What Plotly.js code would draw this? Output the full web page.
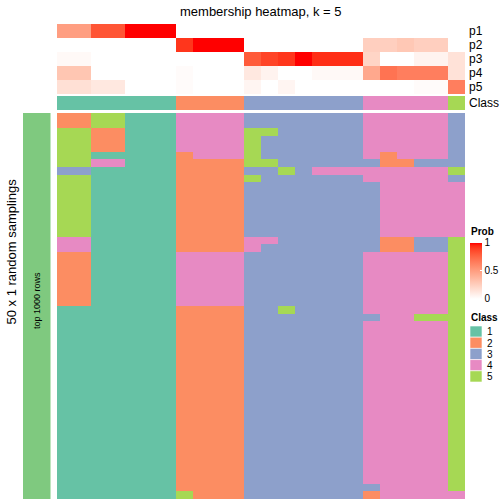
<!DOCTYPE html>
<html><head><meta charset="utf-8">
<script src="https://cdn.plot.ly/plotly-3.0.1.min.js"></script>
<style>html,body{margin:0;padding:0;background:#fff}#plot{width:504px;height:504px}</style>
</head><body><div id="plot"></div>
<script>
// ---- data ----
var classLabels = ['1','2','3','4','5'];
var classColors = ['#66C2A5','#FC8D62','#8DA0CB','#E78AC3','#A6D854'];
var probNames = ['p1','p2','p3','p4','p5'];
var p1 = [0.5,0.5,0.82,0.82,1,1,1,0,0,0,0,0,0,0,0,0,0,0,0,0,0,0,0,0];
var p2 = [0,0,0,0,0,0,0,0.92,1,1,1,0,0,0,0,0,0,0,0.25,0.25,0.29,0.25,0.25,0];
var p3 = [0.03,0.03,0,0,0,0,0,0,0,0,0,0.8,0.88,0.92,1,0.94,0.94,0.94,0.22,0,0,0.06,0.06,0.15];
var p4 = [0.3,0.3,0,0,0,0,0,0.02,0,0,0,0.12,0.06,0,0,0.03,0.03,0.03,0.45,0.7,0.65,0.65,0.65,0.15];
var p5 = [0.16,0.16,0.12,0.12,0,0,0,0.02,0,0,0,0.05,0,0.05,0,0,0,0,0,0,0,0.02,0.02,0.65];
var sampleClass = [1,1,1,1,1,1,1,2,2,2,2,3,3,3,3,3,3,3,4,4,4,4,4,5];
var samplingRows = [
"225511144443333333444443",
"225511144443333333444443",
"552211144445533333444443",
"552211144445333333444443",
"552211144445333333444443",
"551111124445333333424443",
"554411122225533333322333",
"331111122223353444444445",
"551111122225333333444443",
"551111122223333333344444",
"551111122223333333344444",
"551111122223333333344444",
"551111122223333333344444",
"551111122223333333344444",
"551111122223333333344444",
"551111122223333333344444",
"441111122224433333322335",
"441111122224333333322335",
"221111144443333333444445",
"221111144443333333444445",
"221111144443333333444445",
"221111144443333333444445",
"221111144443333333444445",
"221111144443333333444445",
"221111144443333333444445",
"111111122223353333444445",
"111111122223333333344555",
"111111122223333333444445",
"111111122223333333444445",
"111111122223333333444445",
"111111122223333333444445",
"111111122223333333444445",
"111111122223333333444445",
"111111122223333333444445",
"111111122223333333444445",
"111111122223333333444445",
"111111122223333333444445",
"111111122223333333444445",
"111111122223333333444445",
"111111122223333333444445",
"111111122223333333444445",
"111111122223333333444445",
"111111122223333333444445",
"111111122223333333444445",
"111111122223333333444445",
"111111122223333333444445",
"111111122223333333444445",
"111111122223333333444445",
"111111122223333333344445",
"111111152223333333244444"
];
var probTicks = [0, 0.5, 1];
var probTickText = ['0', '0.5', '1'];
var titleText = 'membership heatmap, k = 5';
var rowTitle = '50 x 1 random samplings';
var bandLabel = 'top 1000 rows';

// ---- helpers ----
var W = 504, H = 504;
function px(x){return x/W;}
function py(y){return (H-y)/H;}
function labToRgb(L,a,b){
  var fy=(L+16)/116, fx=fy+a/500, fz=fy-b/200;
  function f(t){return t*t*t>0.008856?t*t*t:(t-16/116)/7.787;}
  var X=0.95047*f(fx), Y=1.0*f(fy), Z=1.08883*f(fz);
  var r=3.2406*X-1.5372*Y-0.4986*Z, g=-0.9689*X+1.8758*Y+0.0415*Z, bb=0.0557*X-0.2040*Y+1.0572*Z;
  function c(v){v=v<=0.0031308?12.92*v:1.055*Math.pow(v,1/2.4)-0.055;return Math.round(Math.max(0,Math.min(1,v))*255);}
  return 'rgb('+c(r)+','+c(g)+','+c(bb)+')';
}
var probScale=[];
for(var i=0;i<=20;i++){var t=i/20;probScale.push([t,labToRgb(100+(53.24-100)*t,80.09*t,67.20*t)]);}
var classScale=[];
classColors.forEach(function(c,i){classScale.push([i/5,c]);classScale.push([(i+1)/5,c]);});

var nCols = sampleClass.length;
var xs = []; for (var j=0;j<nCols;j++) xs.push(j);
var mainZ = samplingRows.map(function(s){return s.split('').map(Number);});
var mainY = []; for (var r=0;r<mainZ.length;r++) mainY.push(r);
var font = 'Liberation Sans, Arial, sans-serif';

var traces = [
  {type:'heatmap', x:xs, y:probNames, z:[p1,p2,p3,p4,p5], xaxis:'x', yaxis:'y3',
   colorscale:probScale, zmin:0, zmax:1, hoverinfo:'skip',
   colorbar:{x:px(470), xanchor:'left', y:py(270.5), yanchor:'middle', len:56, lenmode:'pixels',
     thickness:12, thicknessmode:'pixels', xpad:0, ypad:0, outlinewidth:0,
     tickvals:probTicks, ticktext:probTickText, ticks:'inside', ticklen:2, tickcolor:'#fff',
     tickfont:{family:font, size:10, color:'#000'}}},
  {type:'heatmap', x:xs, y:['Class'], z:[sampleClass], xaxis:'x', yaxis:'y2',
   colorscale:classScale, zmin:0.5, zmax:5.5, showscale:false, hoverinfo:'skip'},
  {type:'heatmap', x:xs, y:mainY, z:mainZ, xaxis:'x', yaxis:'y',
   colorscale:classScale, zmin:0.5, zmax:5.5, showscale:false, hoverinfo:'skip'}
];

var shapes = [
  {type:'rect', xref:'paper', yref:'paper', x0:px(23), x1:px(50.5), y0:py(499), y1:py(113),
   fillcolor:'#7FC97F', line:{width:0}}
];
var annotations = [
  {text:titleText, xref:'paper', yref:'paper', x:px(261), y:py(11.5), showarrow:false,
   font:{family:font, size:13, color:'#000'}, xanchor:'center', yanchor:'middle'},
  {text:rowTitle, xref:'paper', yref:'paper', x:px(10.5), y:py(252), showarrow:false, textangle:-90,
   font:{family:font, size:13, color:'#000'}, xanchor:'center', yanchor:'middle'},
  {text:bandLabel, xref:'paper', yref:'paper', x:px(37), y:py(301), showarrow:false, textangle:-90,
   font:{family:font, size:9, color:'#000'}, xanchor:'center', yanchor:'middle'},
  {text:'<b>Prob</b>', xref:'paper', yref:'paper', x:px(469), y:py(231), showarrow:false,
   font:{family:font, size:10, color:'#000'}, xanchor:'left', yanchor:'middle'},
  {text:'<b>Class</b>', xref:'paper', yref:'paper', x:px(469), y:py(317), showarrow:false,
   font:{family:font, size:10, color:'#000'}, xanchor:'left', yanchor:'middle'}
];
probNames.forEach(function(n,i){
  annotations.push({text:n, xref:'paper', yref:'paper', x:px(467), y:py(31+14*i), showarrow:false,
    font:{family:font, size:12, color:'#000'}, xanchor:'left', yanchor:'middle'});
});
annotations.push({text:'Class', xref:'paper', yref:'paper', x:px(467), y:py(103), showarrow:false,
  font:{family:font, size:12, color:'#000'}, xanchor:'left', yanchor:'middle'});
classLabels.forEach(function(lab,i){
  var top = 326 + 11.2*i;
  shapes.push({type:'rect', xref:'paper', yref:'paper', x0:px(470), x1:px(482), y0:py(top+11.2), y1:py(top),
    fillcolor:classColors[i], line:{width:0.6, color:'#ffffff'}});
  annotations.push({text:lab, xref:'paper', yref:'paper', x:px(485), y:py(top+5.8), showarrow:false,
    font:{family:font, size:10, color:'#000'}, xanchor:'left', yanchor:'middle'});
});

var hid = {visible:false, fixedrange:true};
var layout = {
  width:W, height:H, margin:{l:0,r:0,t:0,b:0}, paper_bgcolor:'#fff', plot_bgcolor:'#fff',
  showlegend:false,
  xaxis:Object.assign({domain:[px(57), px(465)], range:[-0.5, nCols-0.5], anchor:'y'}, hid),
  yaxis:Object.assign({domain:[py(499), py(113)], range:[mainZ.length-0.5, -0.5]}, hid),
  yaxis2:Object.assign({domain:[py(110), py(96)], anchor:'x'}, hid),
  yaxis3:Object.assign({domain:[py(94), py(24)], anchor:'x', autorange:'reversed'}, hid),
  shapes:shapes, annotations:annotations
};
Plotly.newPlot('plot', traces, layout, {staticPlot:true, displayModeBar:false});
</script></body></html>
